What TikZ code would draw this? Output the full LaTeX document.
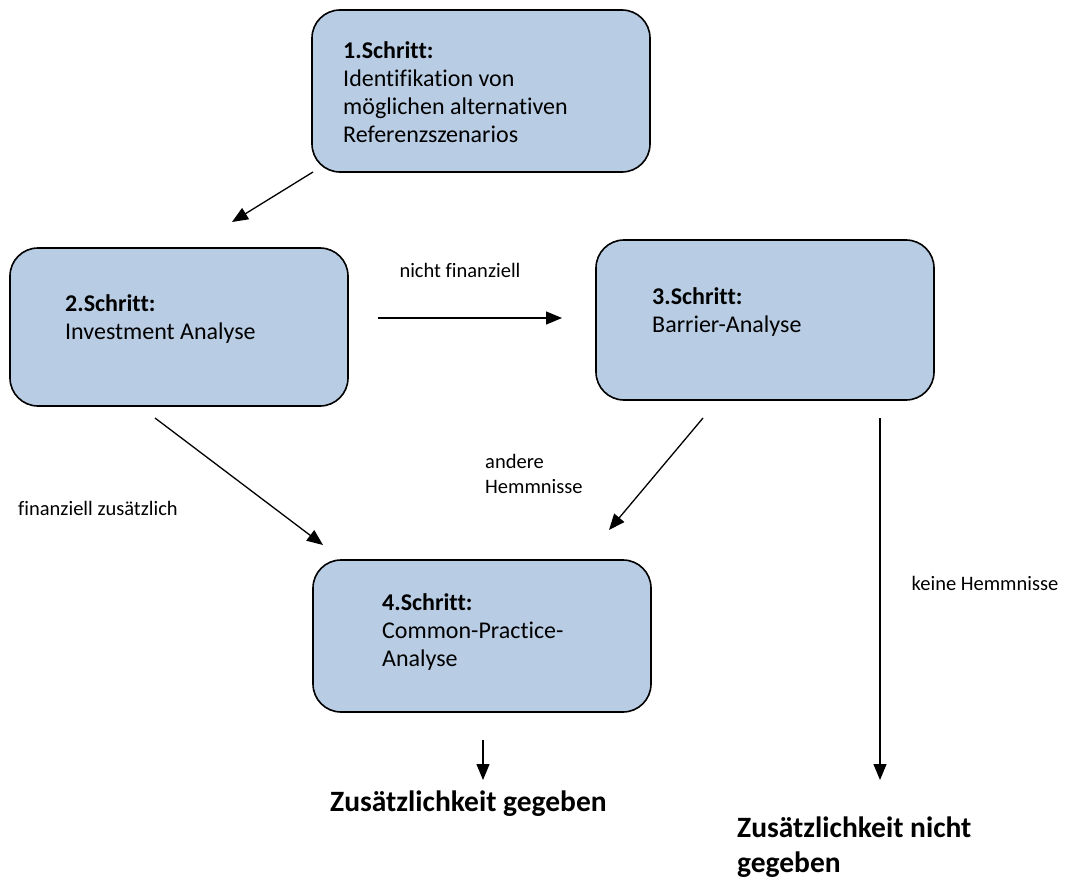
\documentclass[tikz,border=0pt]{standalone}
\usepackage{fontspec}
\setmainfont{Carlito}[Ligatures=NoCommon]
\usetikzlibrary{arrows.meta}
\definecolor{boxfill}{HTML}{B8CCE4}
\tikzset{
  stepbox/.style={draw=black, line width=1.6pt, fill=boxfill, rounded corners=28pt,
    minimum width=338pt, minimum height=#1, inner sep=0pt},
  boxtext/.style={anchor=west, align=left, inner sep=0pt, font=\fontsize{24}{28}\selectfont},
  lbl/.style={inner sep=0pt, align=left, font=\fontsize{20.5}{25}\selectfont},
  result/.style={inner sep=0pt, align=left, font=\fontsize{29.5}{35}\selectfont\bfseries},
  conn/.style={line width=1.3pt, -{Triangle[length=16pt,width=13pt]}},
}
\begin{document}
\begin{tikzpicture}[x=1pt,y=-1pt]
\useasboundingbox (0,0) rectangle (1066,880);
% boxes
\node[stepbox=162pt] (b1) at (481,91) {};
\node[stepbox=158pt] (b2) at (179,327) {};
\node[stepbox=160pt] (b3) at (765,320) {};
\node[stepbox=152pt] (b4) at (482,636) {};
% box texts
\node[boxtext] (t1) at (343,92) {\textbf{1.Schritt:}\\Identifikation von\\möglichen alternativen\\Referenzszenarios};
\node[boxtext] (t2) at (65,319) {\textbf{2.Schritt:}\\Investment Analyse};
\node[boxtext] (t3) at (652,312) {\textbf{3.Schritt:}\\Barrier-Analyse};
\node[boxtext] (t4) at (382,632) {\textbf{4.Schritt:}\\Common-Practice-\\Analyse};
% connector end points
\coordinate (a1s) at (313,172); \coordinate (a1e) at (232,222);
\coordinate (a2s) at (378,318); \coordinate (a2e) at (562,318);
\coordinate (a3s) at (155,418); \coordinate (a3e) at (323,545);
\coordinate (a4s) at (703,418); \coordinate (a4e) at (609,530);
\coordinate (a5s) at (880,418); \coordinate (a5e) at (880,780);
\coordinate (a6s) at (483,740); \coordinate (a6e) at (483,780);
\draw[conn] (a1s) -- (a1e);
\draw[conn] (a2s) -- (a2e);
\draw[conn] (a3s) -- (a3e);
\draw[conn] (a4s) -- (a4e);
\draw[conn] (a5s) -- (a5e);
\draw[conn] (a6s) -- (a6e);
% labels
\node[lbl] (l1) at (460,270) {nicht finanziell};
\node[lbl] (l2) at (98,508) {finanziell zusätzlich};
\node[lbl, anchor=west] (l3) at (485,474) {andere\\Hemmnisse};
\node[lbl] (l4) at (985,583) {keine Hemmnisse};
% results
\node[result, anchor=west] (r1) at (330,804) {Zusätzlichkeit gegeben};
\node[result, anchor=west] (r2) at (737,847) {Zusätzlichkeit nicht\\gegeben};
\end{tikzpicture}
\end{document}
